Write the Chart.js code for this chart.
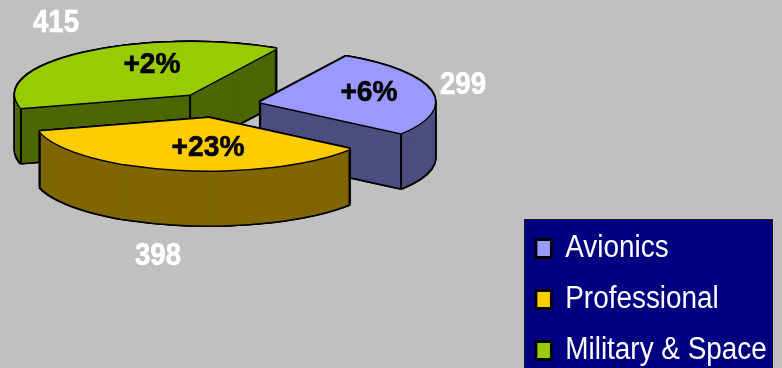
<!DOCTYPE html>
<html>
<head>
<meta charset="utf-8">
<title>Sales by segment</title>
<style>
  html, body { margin: 0; padding: 0; background: #c0c0c0; overflow: hidden; }
  #wrap { width: 782px; height: 368px; }
</style>
<script src="https://cdn.jsdelivr.net/npm/chart.js@4/dist/chart.umd.min.js"></script>
</head>
<body>
<div id="wrap"><canvas id="myChart"></canvas></div>
<script>
const segments = ['Avionics', 'Professional', 'Military & Space'];
const sales = [299, 398, 415];
const growth = ['+6%', '+23%', '+2%'];
const topColors = ['#9999ff', '#ffcc00', '#99cc00'];
const sideColors = ['#4d4d80', '#806600', '#4d6600'];

// pie is tilted by squashing y, then extruded downwards
const FONT = '"Liberation Sans", Arial, sans-serif';
const centerX = 217;
const centerY = 105;
const tilt = 0.30;
const depth = 55;
const explode = 44;
const edge = 1.5;
const drawOrder = [2, 0, 1]; // back slice first

const valueSpots = [[463, 85], [158, 256], [56, 23]];
const growthSpots = [[369, 93], [208, 148], [152, 65]];

const legendSqueeze = 0.9;
const legendBox = { x: 525, y: 220, w: 247, h: 148 };
const legendMarkerX = 536;
const legendShiftY = 18;

const paintArc = (ctx, arc, color, dx, dy) => {
    const { startAngle, endAngle, x, y } = arc.getProps(['startAngle', 'endAngle', 'x', 'y'], true);
    const mid = (startAngle + endAngle) / 2;
    const saved = arc.options;
    arc.options = { ...saved, backgroundColor: color, borderWidth: 0 };
    ctx.save();
    ctx.translate(centerX + dx, centerY + dy);
    ctx.scale(1, tilt);
    ctx.translate(Math.cos(mid) * explode - x, Math.sin(mid) * explode - y);
    arc.draw(ctx);
    ctx.restore();
    arc.options = saved;
};

// vertical edges of the extrusion at the rim corners, and at the apex if it faces us
const strokeCorners = (ctx, arc) => {
    const { startAngle, endAngle, outerRadius } = arc.getProps(['startAngle', 'endAngle', 'outerRadius'], true);
    const mid = (startAngle + endAngle) / 2;
    const ax = centerX + Math.cos(mid) * explode;
    const ay = centerY + Math.sin(mid) * explode * tilt;
    const corners = Math.sin(mid) < 0 ? [[ax, ay]] : [];
    [startAngle, endAngle].forEach((a) => {
        corners.push([ax + Math.cos(a) * outerRadius, ay + Math.sin(a) * outerRadius * tilt]);
    });
    ctx.save();
    ctx.strokeStyle = '#000';
    ctx.lineWidth = 2;
    corners.forEach(([px, py]) => {
        ctx.beginPath();
        ctx.moveTo(px, py);
        ctx.lineTo(px, py + depth);
        ctx.stroke();
    });
    ctx.restore();
};

const drawText = (ctx, text, spot, color, size, squeeze) => {
    ctx.save();
    ctx.translate(spot[0], spot[1]);
    ctx.scale(squeeze, 1);
    ctx.font = `bold ${size}px ${FONT}`;
    ctx.fillStyle = color;
    ctx.strokeStyle = color;
    ctx.lineWidth = 0.6;
    ctx.textAlign = 'center';
    ctx.textBaseline = 'middle';
    ctx.fillText(text, 0, 0);
    ctx.strokeText(text, 0, 0);
    ctx.restore();
};

const tiltedPie = {
    id: 'tiltedPie',
    beforeDraw(chart) {
        const { ctx } = chart;
        ctx.save();
        ctx.fillStyle = '#000080';
        ctx.strokeStyle = '#1a1a1a';
        ctx.lineWidth = 1;
        ctx.fillRect(legendBox.x, legendBox.y, legendBox.w, legendBox.h);
        ctx.strokeRect(legendBox.x - 0.5, legendBox.y - 0.5, legendBox.w + 1, legendBox.h + 1);
        ctx.restore();
    },
    afterLayout(chart) {
        // legend type runs narrow: squeeze the stock legend and move it onto its box
        const { legend, ctx } = chart;
        if (legend.squeezed) return;
        const drawLegend = legend.draw.bind(legend);
        legend.draw = (area) => {
            const padding = legend.options.labels.padding;
            ctx.save();
            ctx.translate(legendMarkerX, legendShiftY);
            ctx.scale(legendSqueeze, 1);
            ctx.translate(-(legend.left + padding), 0);
            drawLegend(area);
            ctx.restore();
        };
        legend.squeezed = true;
    },
    beforeDatasetsDraw(chart) {
        const { ctx } = chart;
        const arcs = chart.getDatasetMeta(0).data;
        drawOrder.forEach((i) => {
            const arc = arcs[i];
            // outline: the whole solid in black, slightly wider all round
            for (let d = -edge; d <= depth + edge; d++) {
                [-edge, 0, edge].forEach((dx) => paintArc(ctx, arc, '#000', dx, d));
            }
            for (let d = depth; d >= 0; d--) {
                paintArc(ctx, arc, sideColors[i], 0, d);
            }
            strokeCorners(ctx, arc);
            [[-edge, 0], [edge, 0], [0, -edge], [0, edge]].forEach(([dx, dy]) => paintArc(ctx, arc, '#000', dx, dy));
            paintArc(ctx, arc, topColors[i], 0, 0);
        });
        sales.forEach((v, i) => drawText(ctx, String(v), valueSpots[i], '#fff', 31, 0.89));
        growth.forEach((g, i) => drawText(ctx, g, growthSpots[i], '#000', 30, 0.94));
        return false;
    }
};

new Chart(document.getElementById('myChart').getContext('2d'), {
    type: 'pie',
    data: {
        labels: segments,
        datasets: [{
            data: sales,
            backgroundColor: topColors,
            borderColor: '#000',
            borderWidth: 3,
            radius: 175
        }]
    },
    options: {
        responsive: true,
        maintainAspectRatio: false,
        animation: false,
        rotation: 29.5,
        plugins: {
            tooltip: { enabled: false },
            legend: {
                position: 'right',
                align: 'end',
                labels: {
                    color: '#fff',
                    font: { family: FONT, size: 31 },
                    boxWidth: 17,
                    boxHeight: 18,
                    padding: 20
                }
            }
        }
    },
    plugins: [tiltedPie]
});
</script>
</body>
</html>
